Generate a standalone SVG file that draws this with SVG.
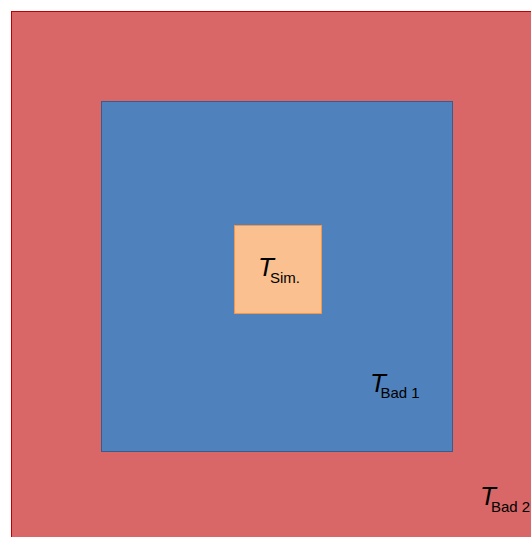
<svg xmlns="http://www.w3.org/2000/svg" width="531" height="537" viewBox="0 0 531 537">
<style>
.t{font-family:"Liberation Sans",Arial,sans-serif;fill:#000}
.T{font-style:italic;font-size:26px}
.s{font-size:15px}
</style>
<rect width="531" height="537" fill="#fff"/>
<g id="bad2">
<rect x="11.5" y="11.5" width="530" height="540" fill="#D96767" stroke="#C00000" stroke-width="1"/>
<text class="t" x="480" y="505"><tspan class="T">T</tspan><tspan class="s" x="491" y="512">Bad 2</tspan></text>
</g>
<g id="bad1">
<rect x="101.5" y="101.5" width="351" height="350" fill="#4F81BD" stroke="#385D8A" stroke-width="1"/>
<text class="t" x="370" y="392"><tspan class="T">T</tspan><tspan class="s" x="380.5" y="398">Bad 1</tspan></text>
</g>
<g id="sim">
<rect x="234.5" y="225.5" width="87" height="88" fill="#FAC090" stroke="#F79646" stroke-width="1"/>
<text class="t" x="258" y="276"><tspan class="T">T</tspan><tspan class="s" x="270" y="283">Sim.</tspan></text>
</g>
<g id="connectors"/>
</svg>
